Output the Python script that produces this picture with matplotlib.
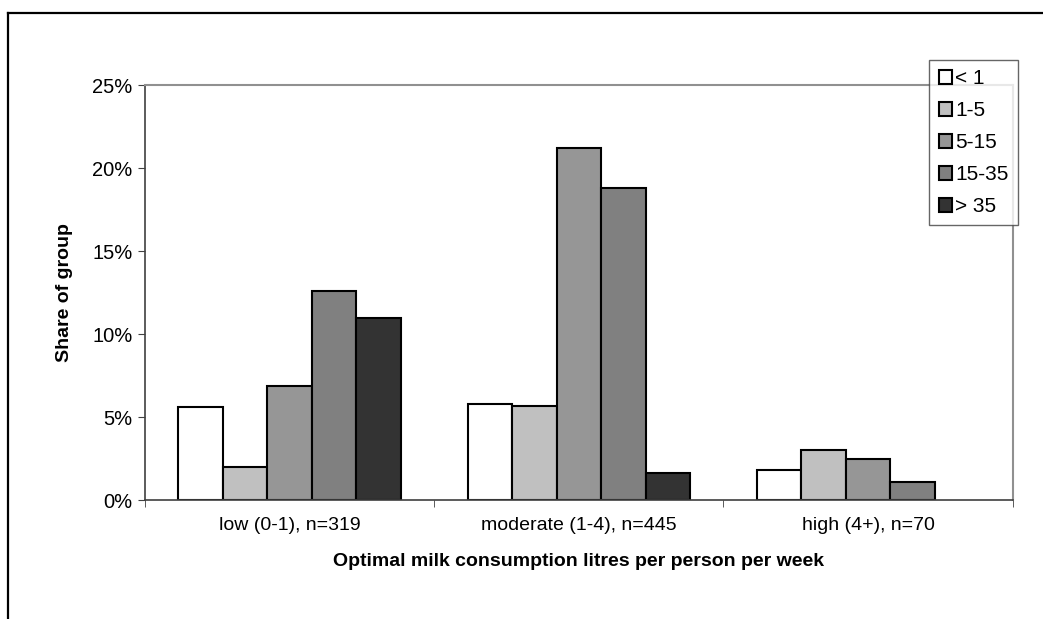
import numpy as np
import matplotlib.pyplot as plt
from matplotlib.lines import Line2D

plt.rcParams['font.family'] = ['Liberation Sans', 'DejaVu Sans']

# Data (share of group, %)
groups = ["low (0-1), n=319", "moderate (1-4), n=445", "high (4+), n=70"]
series = ["< 1", "1-5", "5-15", "15-35", "> 35"]
lt1 = [5.6, 5.8, 1.8]
s1_5 = [2.0, 5.7, 3.0]
s5_15 = [6.9, 21.2, 2.5]
s15_35 = [12.6, 18.8, 1.1]
gt35 = [11.0, 1.65, 0.0]
colors = ["#FFFFFF", "#C0C0C0", "#969696", "#808080", "#333333"]

values = [lt1, s1_5, s5_15, s15_35, gt35]

fig = plt.figure(figsize=(10.43, 6.19), dpi=100)
ax = fig.add_axes([0.139, 0.192, 0.832, 0.670])

x = np.arange(len(groups))
w = 0.154
handles = []
for i, (vals, name, c) in enumerate(zip(values, series, colors)):
    # no outline for empty bars, as in the original
    lws = [1.5 if v > 0 else 0 for v in vals]
    b = ax.bar(x + (i - 2) * w, vals, width=w, color=c, edgecolor="black",
               linewidth=lws, label=name)
    handles.append(b)

ax.set_xlim(-0.5, 2.5)
ax.set_ylim(0, 25)
ax.set_yticks([0, 5, 10, 15, 20, 25])
ax.set_yticklabels([f"{v}%" for v in [0, 5, 10, 15, 20, 25]], fontsize=14.5)
ax.set_xticks(x)
ax.set_xticklabels(groups, fontsize=14)
ax.set_xticks([-0.5, 0.5, 1.5, 2.5], minor=True)
ax.tick_params(axis="x", which="major", length=0, pad=12)
ax.tick_params(axis="x", which="minor", length=5, color="#404040")
ax.tick_params(axis="y", length=5, color="#404040", pad=4)

for s in ["top", "right"]:
    ax.spines[s].set_color("#909090")
    ax.spines[s].set_linewidth(1.5)
for s in ["left", "bottom"]:
    ax.spines[s].set_color("#404040")
    ax.spines[s].set_linewidth(1.2)

ax.set_ylabel("Share of group", fontsize=14, fontweight="bold", labelpad=14)
ax.set_xlabel("Optimal milk consumption litres per person per week",
              fontsize=14, fontweight="bold", labelpad=14)

leg = ax.legend(handles=handles, loc="upper left",
                bbox_to_anchor=(0.891, 0.903), bbox_transform=fig.transFigure,
                fontsize=15, frameon=True, fancybox=False, handlelength=0.65,
                handleheight=0.65, handletextpad=0.15, labelspacing=0.62,
                borderpad=0.45, borderaxespad=0)
leg.get_frame().set_edgecolor("#404040")
leg.get_frame().set_linewidth(1.0)

# outer chart border (only left and top visible in the crop)
fig.add_artist(Line2D([8 / 1043, 8 / 1043], [0, 1 - 13 / 619],
                      transform=fig.transFigure, color="black", lw=1.6))
fig.add_artist(Line2D([8 / 1043, 1], [1 - 13 / 619, 1 - 13 / 619],
                      transform=fig.transFigure, color="black", lw=1.6))

fig.savefig("out.png", dpi=100)
